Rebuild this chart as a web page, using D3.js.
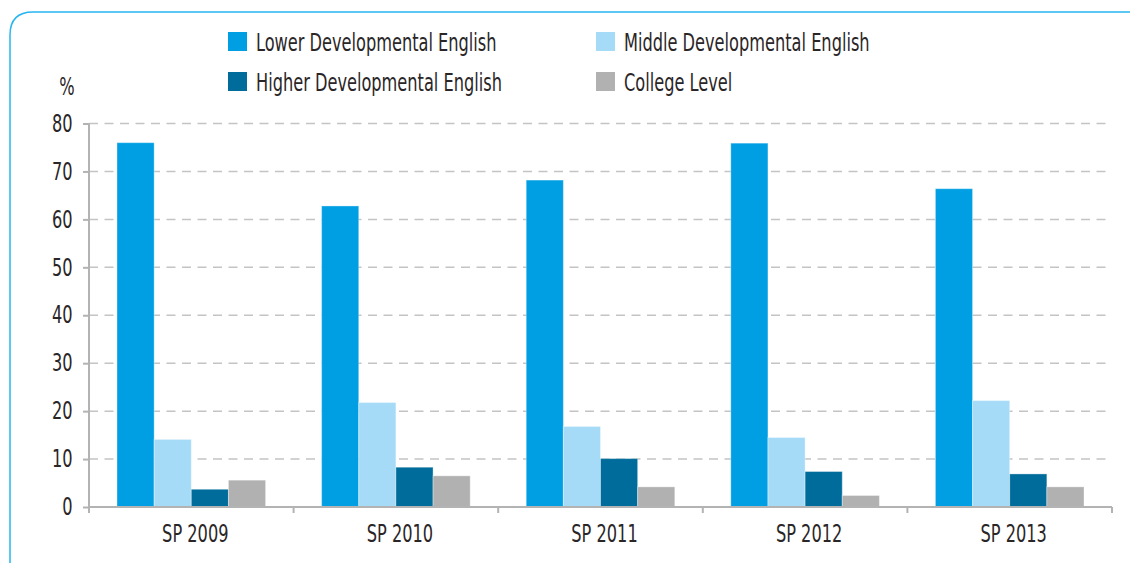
<!DOCTYPE html>
<html>
<head>
<meta charset="utf-8">
<script src="https://cdn.jsdelivr.net/npm/d3@7"></script>
<style>
  body { margin: 0; background: #fff; }
  svg text { font-family: "Liberation Sans Narrow", "DejaVu Sans Condensed", "Arial Narrow", sans-serif; fill: #2a2627; }
</style>
</head>
<body>
<script>
// chart data
const categories = ["SP 2009", "SP 2010", "SP 2011", "SP 2012", "SP 2013"];
const seriesNames = ["Lower Developmental English", "Middle Developmental English", "Higher Developmental English", "College Level"];
const lowerDev = [76.0, 62.8, 68.2, 75.9, 66.4];
const middleDev = [14.1, 21.8, 16.8, 14.5, 22.2];
const higherDev = [3.7, 8.3, 10.1, 7.4, 6.9];
const collegeLevel = [5.6, 6.5, 4.2, 2.4, 4.2];
const yTicks = [0, 10, 20, 30, 40, 50, 60, 70, 80];

const seriesValues = [lowerDev, middleDev, higherDev, collegeLevel];
const colors = ["#009fe3", "#a6dbf7", "#006c9b", "#b1b1b1"];

const width = 1130;
const height = 563;
const margin = { top: 123.5, right: 18, bottom: 56, left: 89 };
const sx = 0.75; // horizontal squeeze to mimic a condensed face

const svg = d3.select("body")
  .append("svg")
  .attr("width", width)
  .attr("height", height);

// rounded frame (top + left edges only)
svg.append("path")
  .attr("d", "M10,563 V35 Q10,12 33,12 H1130")
  .attr("fill", "none")
  .attr("stroke", "#29b5ef")
  .attr("stroke-width", 1.5);

const x = d3.scaleBand()
  .domain(categories)
  .range([margin.left, width - margin.right]);

const xInner = d3.scaleBand()
  .domain(seriesNames)
  .range([28, x.bandwidth() - 28]);

const y = d3.scaleLinear()
  .domain([0, 80])
  .range([height - margin.bottom, margin.top]);

// gridlines
svg.append("g")
  .selectAll("line")
  .data(yTicks.filter(d => d > 0))
  .enter()
  .append("line")
  .attr("x1", margin.left)
  .attr("x2", width - 21)
  .attr("y1", d => y(d))
  .attr("y2", d => y(d))
  .attr("stroke", "#c4c4c4")
  .attr("stroke-width", 1.5)
  .attr("stroke-dasharray", "9,6.5");

// bars
const groups = svg.append("g")
  .selectAll("g")
  .data(categories)
  .enter()
  .append("g")
  .attr("transform", d => `translate(${x(d)},0)`);

groups.selectAll("rect")
  .data((c, i) => seriesNames.map((s, j) => ({ s, j, v: seriesValues[j][i] })))
  .enter()
  .append("rect")
  .attr("x", d => xInner(d.s))
  .attr("width", xInner.bandwidth())
  .attr("y", d => y(d.v))
  .attr("height", d => y(0) - y(d.v))
  .attr("fill", d => colors[d.j])
  .attr("stroke", "rgba(255,255,255,0.35)")
  .attr("stroke-width", 1);

// y axis
const yAxis = d3.axisLeft(y)
  .tickValues(yTicks)
  .tickSize(6);

const yG = svg.append("g")
  .attr("transform", `translate(${margin.left},0)`)
  .call(yAxis);
yG.select(".domain").attr("stroke", "#b3b3b3").attr("stroke-width", 2)
  .attr("d", `M0,${y(80)}V${y(0) + 6}`);
yG.selectAll(".tick line").attr("stroke", "#b3b3b3").attr("stroke-width", 2);
yG.selectAll(".tick text")
  .style("font-size", "24px")
  .attr("x", -16.5 / sx)
  .attr("transform", `scale(${sx},1)`);

// x axis
const xAxis = d3.axisBottom(x)
  .tickSize(0)
  .tickPadding(18);

const xG = svg.append("g")
  .attr("transform", `translate(0,${y(0)})`)
  .call(xAxis);
xG.select(".domain").attr("stroke", "#b3b3b3").attr("stroke-width", 2)
  .attr("d", `M${margin.left},0H${width - margin.right}`);
xG.selectAll(".tick text")
  .style("font-size", "24px")
  .attr("x", 4 / sx)
  .attr("transform", `scale(${sx},1)`);

// category boundary ticks
xG.append("g")
  .selectAll("line")
  .data(categories.concat(["end"]))
  .enter()
  .append("line")
  .attr("x1", (d, i) => margin.left + i * x.step())
  .attr("x2", (d, i) => margin.left + i * x.step())
  .attr("y1", 0)
  .attr("y2", 6)
  .attr("stroke", "#b3b3b3")
  .attr("stroke-width", 2);

// unit label
svg.append("text")
  .attr("x", 67 / sx)
  .attr("y", 95)
  .attr("text-anchor", "middle")
  .attr("transform", `scale(${sx},1)`)
  .style("font-size", "24px")
  .text("%");

// legend
const legend = svg.append("g")
  .selectAll("g")
  .data(seriesNames)
  .enter()
  .append("g")
  .attr("transform", (d, i) => `translate(${i % 2 === 0 ? 228 : 596},${i < 2 ? 32 : 72})`);

legend.append("rect")
  .attr("width", 19)
  .attr("height", 19)
  .attr("fill", (d, i) => colors[i]);

legend.append("text")
  .attr("x", 28 / sx)
  .attr("y", 19)
  .attr("transform", `scale(${sx},1)`)
  .style("font-size", "24px")
  .text(d => d);
</script>
</body>
</html>
